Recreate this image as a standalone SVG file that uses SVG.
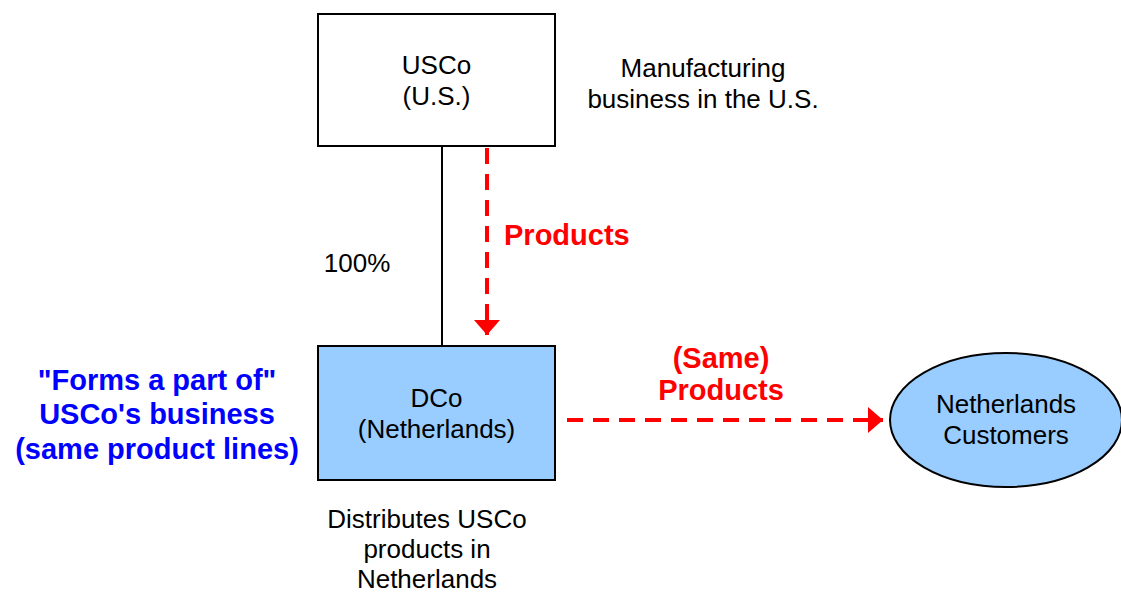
<svg xmlns="http://www.w3.org/2000/svg" width="1121" height="592" viewBox="0 0 1121 592">
<style>
.t{font-family:"Liberation Sans",Arial,sans-serif;font-size:26px;fill:#000;text-anchor:middle}
.r{font-family:"Liberation Sans",Arial,sans-serif;font-size:29px;font-weight:bold;fill:#ff0000}
.b{font-family:"Liberation Sans",Arial,sans-serif;font-size:29px;font-weight:bold;fill:#0000ff;text-anchor:middle}
.box{stroke:#000;stroke-width:2}
.dash{stroke:#ff0000;stroke-width:4;stroke-dasharray:16,10;fill:none}
</style>
<defs>
<marker id="ah" viewBox="0 0 10 10" refX="10" refY="5" markerWidth="3.8" markerHeight="6.6" markerUnits="strokeWidth" orient="auto" preserveAspectRatio="none">
<path d="M0,0 L10,5 L0,10 Z" fill="#ff0000"/>
</marker>
</defs>
<rect width="1121" height="592" fill="#fff"/>
<g id="connectors">
<line x1="442" y1="146" x2="442" y2="346" stroke="#000" stroke-width="2"/>
<line class="dash" x1="487" y1="148" x2="487" y2="335" marker-end="url(#ah)"/>
<line class="dash" x1="567" y1="420" x2="883" y2="420" marker-end="url(#ah)"/>
<text class="r" x="504" y="245">Products</text>
<text class="r" x="721" y="368" text-anchor="middle">(Same)</text>
<text class="r" x="721" y="400" text-anchor="middle">Products</text>
<text class="t" x="357" y="272">100%</text>
</g>
<g id="usco">
<rect class="box" x="318" y="14" width="237" height="132" fill="#fff"/>
<text class="t" x="436.5" y="74">USCo</text>
<text class="t" x="436.5" y="105">(U.S.)</text>
</g>
<g id="usco-note">
<text class="t" x="703" y="77">Manufacturing</text>
<text class="t" x="703" y="108">business in the U.S.</text>
</g>
<g id="dco">
<rect class="box" x="318" y="346" width="237" height="134" fill="#99ccff"/>
<text class="t" x="436.5" y="407">DCo</text>
<text class="t" x="436.5" y="438">(Netherlands)</text>
</g>
<g id="dco-note">
<text class="t" x="427" y="528">Distributes USCo</text>
<text class="t" x="427" y="558">products in</text>
<text class="t" x="427" y="588">Netherlands</text>
</g>
<g id="forms-note">
<text class="b" x="157" y="390">"Forms a part of"</text>
<text class="b" x="157" y="424">USCo's business</text>
<text class="b" x="157" y="459">(same product lines)</text>
</g>
<g id="customers">
<ellipse cx="1006" cy="420" rx="116" ry="67" fill="#99ccff" stroke="#000" stroke-width="2"/>
<text class="t" x="1006" y="413">Netherlands</text>
<text class="t" x="1006" y="444">Customers</text>
</g>
</svg>
